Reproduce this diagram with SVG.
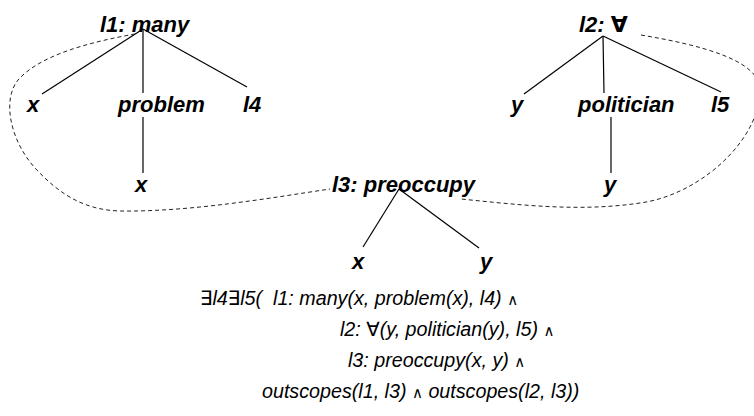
<svg xmlns="http://www.w3.org/2000/svg" width="754" height="416" viewBox="0 0 754 416">
  <style>
    .lbl { font-family: "Liberation Sans", Arial, "DejaVu Sans", sans-serif; font-size: 22px; font-weight: bold; font-style: italic; fill: #000; }
    .frm { font-family: "Liberation Sans", Arial, "DejaVu Sans", sans-serif; font-size: 19.7px; font-style: italic; fill: #000; }
    .and { font-size: 15px; font-style: normal; }
    .edge { stroke: #000; stroke-width: 1.2; fill: none; }
    .scope { stroke: #222; stroke-width: 1; stroke-dasharray: 4 3; fill: none; }
  </style>
  <rect width="754" height="416" fill="#fff"/>

  <!-- tree edges and scope outlines -->
  <g id="connectors">
    <line class="edge" x1="143" y1="29" x2="42" y2="94"/>
    <line class="edge" x1="143" y1="29" x2="143" y2="93"/>
    <line class="edge" x1="143" y1="29" x2="247" y2="87"/>
    <line class="edge" x1="143" y1="117" x2="143" y2="173"/>

    <line class="edge" x1="603" y1="36" x2="524" y2="94"/>
    <line class="edge" x1="603" y1="36" x2="604" y2="93"/>
    <line class="edge" x1="603" y1="36" x2="721" y2="92"/>
    <line class="edge" x1="611" y1="117" x2="611" y2="173"/>

    <line class="edge" x1="399" y1="189" x2="363" y2="247"/>
    <line class="edge" x1="399" y1="189" x2="479" y2="248"/>

    <path class="scope" d="M135,34 C90,42 40,55 18,80 C2,100 10,140 35,168 C60,195 85,210 120,211 C190,212 270,198 330,189"/>
    <path class="scope" d="M641,35 C700,45 760,60 760,90 C760,140 700,195 640,203 C580,212 520,205 461,199"/>
  </g>

  <g id="l1"><text class="lbl" x="100" y="32">l1: many</text></g>
  <g id="l1-x"><text class="lbl" x="27" y="112">x</text></g>
  <g id="l1-problem"><text class="lbl" x="118" y="112">problem</text></g>
  <g id="l1-l4"><text class="lbl" x="243" y="112">l4</text></g>
  <g id="problem-x"><text class="lbl" x="135" y="192">x</text></g>

  <g id="l2"><text class="lbl" x="579" y="32">l2: ∀</text></g>
  <g id="l2-y"><text class="lbl" x="511" y="112">y</text></g>
  <g id="l2-politician"><text class="lbl" x="578" y="112">politician</text></g>
  <g id="l2-l5"><text class="lbl" x="711" y="112">l5</text></g>
  <g id="politician-y"><text class="lbl" x="604" y="192">y</text></g>

  <g id="l3"><text class="lbl" x="332" y="192">l3: preoccupy</text></g>
  <g id="l3-x"><text class="lbl" x="352" y="269">x</text></g>
  <g id="l3-y"><text class="lbl" x="480" y="269">y</text></g>

  <g id="formula">
    <text class="frm" x="200" y="305" xml:space="preserve">∃l4∃l5(  l1: many(x, problem(x), l4) <tspan class="and">∧</tspan></text>
    <text class="frm" x="340" y="336">l2: ∀(y, politician(y), l5) <tspan class="and">∧</tspan></text>
    <text class="frm" x="348" y="367">l3: preoccupy(x, y) <tspan class="and">∧</tspan></text>
    <text class="frm" x="262" y="398">outscopes(l1, l3) <tspan class="and">∧</tspan> outscopes(l2, l3))</text>
  </g>
</svg>
